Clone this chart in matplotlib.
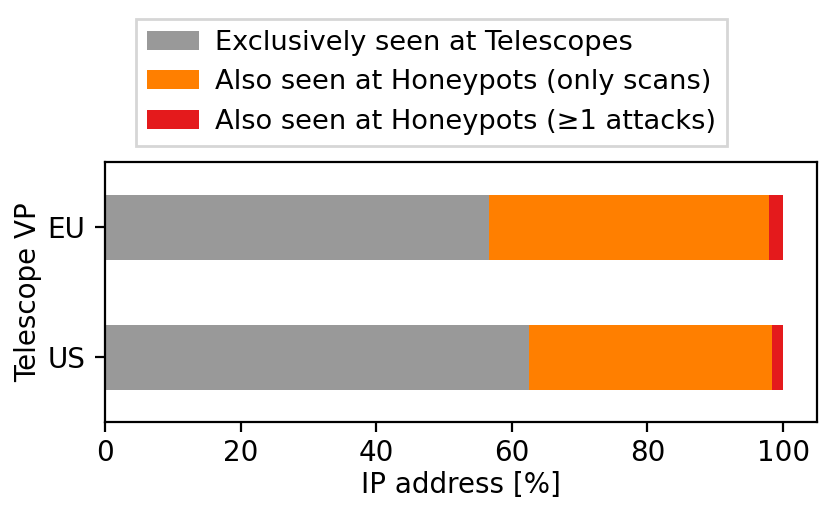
import matplotlib
matplotlib.use("Agg")
import matplotlib.pyplot as plt
import pandas as pd

vps = ["US", "EU"]
exclusive = [62.5, 56.6]
only_scans = [35.9, 41.3]
attacks = [1.6, 2.1]

labels = [
    "Exclusively seen at Telescopes",
    "Also seen at Honeypots (only scans)",
    "Also seen at Honeypots (\u22651 attacks)",
]
colors = ["#999999", "#ff7f00", "#e41a1c"]

df = pd.DataFrame({labels[0]: exclusive, labels[1]: only_scans, labels[2]: attacks}, index=vps)

plt.rcParams["font.size"] = 10
fig = plt.figure(figsize=(4.15, 2.58), dpi=200)
ax = fig.add_axes([105 / 830, 1 - 422 / 516, (817 - 105) / 830, (422 - 162) / 516])

df.plot.barh(stacked=True, color=colors, ax=ax, width=0.5, legend=False)
ax.set_xlim(0, 105)
ax.set_xticks([0, 20, 40, 60, 80, 100])
ax.tick_params(axis="x", pad=2.5)
ax.set_xlabel("IP address [%]", labelpad=1.5)
ax.set_ylabel("Telescope VP", labelpad=2)

handles, lbls = ax.get_legend_handles_labels()
fig.legend(handles, lbls, loc="upper center", bbox_to_anchor=(0.52, 0.99),
           ncol=1, frameon=True, fancybox=False, edgecolor="#cccccc",
           fontsize=9.8, handlelength=1.9, handletextpad=0.6, labelspacing=0.5)

fig.savefig("out.png", dpi=200)
